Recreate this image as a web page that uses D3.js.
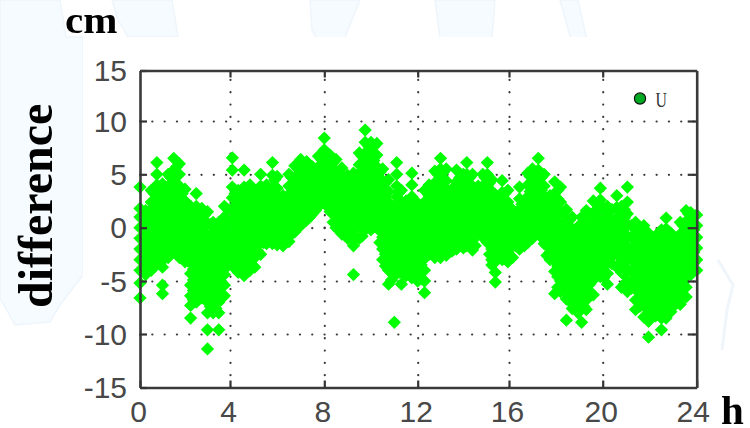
<!DOCTYPE html>
<html><head><meta charset="utf-8">
<script src="https://cdn.jsdelivr.net/npm/d3@7/dist/d3.min.js"></script>
<style>html,body{margin:0;padding:0;background:#fff;overflow:hidden}svg{display:block;filter:blur(.5px)}</style>
</head><body><svg id="c" width="750" height="428"></svg>
<script>
const seriesName = "U";
const xTicks = [0,4,8,12,16,20,24];
const yTicks = [-15,-10,-5,0,5,10,15];
const xPixels = [140,230,324.3,417.7,509,602.7,696.7];
const yPixels = [387.5,334,281,227.7,174.3,121,70.5];
const hours = [0,.25,.5,.75,1,1.25,1.5,1.75,2,2.25,2.5,2.75,3,3.25,3.5,3.75,4.1,4.35,4.6,4.85,5.05,5.3,5.55,5.8,6,6.25,6.5,6.75,7,7.25,7.5,7.75,8,8.25,8.5,8.75,9,9.25,9.5,9.75,10,10.25,10.5,10.75,11,11.1,11.3,11.5,11.75,12,12.3,12.5,12.75,13,13.25,13.5,13.7,14,14.15,14.4,14.65,14.85,15.05,15.25,15.4,15.7,15.95,16.15,16.45,16.65,16.8,17,17.25,17.5,17.75,17.95,18.2,18.45,18.7,18.95,19.1,19.3,19.6,19.9,20.2,20.6,20.8,21.05,21.4,21.75,21.95,22.25,22.5,22.7,22.9,23.1,23.3,23.55,23.75,24];
const differences = [
[3.8,1.8,1,0,-1,-2,-3,-4,-5.2,-6.6],
[1.6,.7,-.4,-1.3,-2.4,-3.2,-4.4],
[3.5,2.4,1.4,.3,-.8,-1.9,-2.9,-4],
[6.1,5,4,3,1.9,.9,-.2,-1.2,-2.4,-3.4],
[4.1,3,2,.8,-.3,-1.4,-2.6,-3.7,-5.4,-6.2],
[5,3.9,2.8,1.6,.6,-.5,-1.7,-2.8],
[6.5,5.4,4.4,3.2,2.1,1,0,-1.2,-2.3],
[6,5,3.9,2.9,1.8,.7,-.4,-1.6,-2.8],
[3.6,2.5,1.4,.3,-.8,-2,-3.2],
[2,1,-.1,-1.2,-2.3,-3.3,-4.3,-5.4,-6.4,-7.3,-8.5],
[3.2,2,1,0,-1.1,-2.2,-3.2,-4.3,-5.3,-6.2,-7],
[1.8,.8,-.3,-1.3,-2.4,-3.4,-4.5,-5.5,-6.6],
[1.5,.4,-.7,-1.7,-2.8,-3.9,-5,-6,-7,-8,-9.6,-11.4],
[.5,-.5,-1.6,-2.7,-3.8,-4.8,-5.9,-7,-8],
[.5,-.6,-1.7,-2.7,-3.8,-4.9,-6,-7,-8,-9.6],
[2,1,-.1,-1.2,-2.3,-3.3,-4.4,-5.4,-6.4],
[6.55,5.4,3.8,2.8,1.6,.5,-.6,-1.6,-2.7,-3.6],
[3.5,2.5,1.4,.3,-.8,-1.9,-3.1,-4.2],
[5.4,3.8,2.7,1.6,.5,-.5,-1.6,-2.6,-3.6,-4.5],
[4,2.9,1.9,.8,-.3,-1.4,-2.4,-3.4,-4],
[3.5,2.4,1.3,.3,-.8,-1.8,-2.8,-3.7],
[5,3.9,2.9,1.8,.7,-.3,-1.4,-2.5],
[4,3,1.9,.9,-.2,-1.3,-1.5],
[6.1,4.9,3.7,2.7,1.6,.5,-.6,-1.5],
[4.8,3.7,2.6,1.5,.4,-.7,-1.6],
[3,2,.9,-.1,-1.2,-1.7],
[5,3.9,2.9,1.8,.7,-.3,-1.3],
[5.8,4.7,3.6,2.6,1.5,.4,-.4],
[6.4,5.3,4.3,3.2,2.1,1,.2],
[6.2,5.1,4,3,2,.7],
[5.7,4.6,3.5,2.4,1.3],
[6.7,5.7,4.6,3.5,2.5,2],
[8.4,7.3,6.3,5.2,4.1,2.9],
[6.8,5.8,4.7,3.6,2.5,1.5],
[6.4,5.3,4.3,3.2,2.1,1,0],
[5.6,4.5,3.5,2.4,1.3,.3,-.6],
[4.9,3.9,2.8,1.7,.7,-.4,-1],
[5.1,4,2.9,1.9,.8,-.3,-1.7,-4.4],
[7,5.9,4.9,3.8,2.7,1.6,.5,-1],
[9.15,8,7,5.9,4.8,3.8,2.7,1.6,.6,-.2],
[8,6.9,5.8,4.8,3.7,2.7,1.6,.5,-.2],
[7.9,6.8,5.7,4.6,3.6,2.5,1.4,0],
[5.5,4.4,3.4,2.3,1.3,.2,-.9,-2,-3],
[4.5,3.4,2.4,1.3,.2,-.8,-1.9,-3,-4,-5.3],
[2,1,-.1,-1.2,-2.2,-3.3,-4.5,-8.9],
[6.1,5,3.9,2.9,1.8,.7,-.4,-1.4,-2.5,-3.6],
[3.5,2.4,1.3,.3,-.8,-1.8,-2.9,-4.2,-5.3],
[2.5,1.5,.5,-.6,-1.6,-2.7,-3.7,-4.5],
[5.1,4,2.9,1.9,.8,-.3,-1.3,-2.4,-3.5,-4.7],
[2.3,1.3,.2,-.9,-2,-3,-4.1,-5],
[3.5,2.4,1.4,.3,-.8,-1.8,-2.9,-4,-5,-6.1],
[4,3,1.9,.8,-.2,-1.3,-2.5],
[5.3,4.2,3.1,2.1,1,0,-1,-2,-2.8],
[6.5,5.5,4.4,3.3,2.3,1.2,.1,-.9,-2,-2.8],
[5.5,4.4,3.4,2.3,1.2,.2,-.9,-1.9,-2.6],
[3.6,2.5,1.5,.4,-.6,-1.6,-2.2],
[5.4,4.3,3.2,2.2,1.1,.1,-1,-2],
[5,3.9,2.8,1.8,.7,-.3,-1.2,-1.9],
[6.1,5,3.9,2.9,1.8,.8,-.3,-1.7],
[5,3.9,2.9,1.8,.8,-.2,-1.2,-2.1],
[3.9,2.8,1.8,.7,-.2],
[5,3.9,2.9,1.9,.8,-.2,-.9],
[6.1,5,3.9,2.9,1.8,.7,-.3,-1.4],
[4.5,3.4,2.3,1.3,.2,-.9,-2,-3,-3.5],
[3.1,2,1,-.1,-1.1,-2.2,-3.2,-4.2,-5.1],
[4.4,3.3,2.3,1.2,.1,-.9,-2,-3],
[3.5,2.4,1.4,.3,-.8,-1.9,-3.2],
[1.7,.6,-.4,-1.5,-2.8],
[3.8,2.7,1.7,.6,-.5,-1.5,-2],
[2.5,1.4,.4,-.7,-1.7],
[5.1,4,2.9,1.9,.8,-.2,-1.4],
[5.5,4.4,3.3,2.3,1.2,.2,-1],
[6.5,5.4,4.3,3.3,2.2,1.2,.2,-.6],
[5,3.9,2.9,1.8,.7,-.3,-1.5],
[3,1.9,.9,-.2,-1.2,-2.3,-3],
[4.3,3.2,2.1,1.1,0,-1,-2.1,-3.1,-4.1,-6.2],
[3.8,2.4,1.4,.3,-.8,-1.9,-2.9,-4,-5,-6],
[1.7,.7,-.4,-1.5,-2.5,-3.6,-4.6,-5.7,-6.7,-8.7],
[1,-.1,-1.1,-2.2,-3.2,-4.3,-5.3,-6.4,-7.6],
[.1,-1,-2,-3.1,-4.1,-5.2,-6.2,-7.3,-8],
[1,0,-1,-2.1,-3.1,-4.2,-5.2,-6.3,-7.3,-8.9],
[1.6,.5,-.5,-1.6,-2.6,-3.7,-4.7,-5.8,-6.8,-7.7],
[2.5,1.4,.4,-.7,-1.7,-2.8,-3.8,-4.9,-6.3],
[3.7,2.6,1.6,.5,-.5,-1.6,-2.6,-3.7,-4.6],
[2,1,-.1,-1.1,-2.2,-3.2,-4.3,-5.3],
[3,1.9,.9,-.2,-1.2,-2.3,-3.7],
[2,1,-.1,-1.1,-2.1,-3.2,-4.2,-5.6],
[3.8,2.4,1.3,.3,-.8,-1.8,-2.8,-3.9,-5,-6],
[.5,-.5,-1.6,-2.6,-3.7,-4.7,-5.8,-6.8,-7.7],
[.2,-.9,-1.9,-3,-4,-5.1,-6.1,-7.2,-8.4],
[-.5,-1.5,-2.6,-3.6,-4.7,-5.7,-6.8,-7.8,-8.8,-10.3],
[-.8,-1.9,-2.9,-4,-5,-6.1,-7.1,-8.3],
[-.2,-1.2,-2.3,-3.3,-4.4,-5.4,-6.5,-7.5,-8.5,-9.6],
[.9,-.1,-1.2,-2.2,-3.3,-4.3,-5.4,-6.4,-7.5,-8.5],
[-.5,-1.5,-2.6,-3.6,-4.7,-5.7,-6.8,-7.9],
[-1.1,-2.1,-3.2,-4.2,-5.3,-6.3,-7.2],
[.5,-.6,-1.6,-2.7,-3.7,-4.8,-5.8,-7.2],
[1.6,.6,-.5,-1.5,-2.6,-3.6,-4.6,-5.6,-6.5],
[1.4,.4,-.7,-1.7,-2.8,-3.6,-4.4],
[1.2,.2,-.9,-1.9,-3,-4]
];
const hoursMid = [.125,.375,.625,.875,1.125,1.375,1.625,1.875,2.125,2.375,2.625,2.875,3.125,3.375,3.625,3.9,4.22,4.47,4.72,4.95,5.18,5.42,5.68,5.9,6.12,6.38,6.62,6.88,7.12,7.38,7.62,7.88,8.12,8.38,8.62,8.88,9.12,9.38,9.62,9.88,10.12,10.38,10.62,10.88,11.05,11.2,11.4,11.62,11.88,12.15,12.4,12.62,12.88,13.12,13.38,13.6,13.85,14.08,14.28,14.52,14.75,14.95,15.15,15.32,15.55,15.82,16.05,16.3,16.55,16.72,16.9,17.12,17.38,17.62,17.85,18.08,18.32,18.58,18.82,19.02,19.2,19.45,19.75,20.05,20.4,20.7,20.92,21.22,21.58,21.85,22.1,22.38,22.6,22.8,23,23.2,23.42,23.65,23.88];
const differencesMid = [
[1.2,.2,-.9,-2,-3,-4],[1.1,.1,-.9,-2,-3,-3.9],[3.2,2,1,0,-1,-2,-3,-3.7],[3.8,2.5,1.5,.5,-.6,-1.7,-2.8,-3.4],
[3.6,2.5,1.3,.2,-.9,-2,-2.8],[4.7,3.4,2.3,1.2,.1,-1,-2.2],[5.7,4.9,3.8,2.7,1.6,.5,-.7,-1.9,-2.3],[3.2,2.3,1.3,.2,-1,-2.2,-2.9],
[1.7,.8,-.3,-1.4,-2.6,-3.1],[1.7,.5,-.6,-1.7,-2.8,-3.9,-4.9,-5.9,-6.8],[1.5,.4,-.7,-1.8,-2.9,-4,-5,-6,-6.7],[1.2,.2,-.9,-2,-3.1,-4.2,-5.2,-6.2],
[.3,-.8,-1.9,-3,-4.1,-5.2,-6.3,-7.4],[.1,-1,-2.1,-3.2,-4.3,-5.4,-6.5,-7.6],[.2,-.9,-2,-3.1,-4.2,-5.3,-6.4],[1.7,.5,-.7,-1.8,-2.9,-3.6],
[3.2,2.1,1,-.1,-1.2,-2.3,-3.4],[3.1,2,.9,-.1,-1.2,-2.3,-3.4,-4.1],[3.7,2.4,1.3,.2,-.9,-1.9,-2.9,-3.7],[3.2,2.2,1.1,0,-1,-2,-3,-3.5],
[3.2,2,1,-.1,-1.1,-2.2],[3.6,2.4,1.4,.3,-.8,-1.4],[3.7,2.6,1.5,.4,-.7,-1.2],[4.5,3.2,2.1,1,-.1,-1.2],
[2.8,1.5,.4,-.7,-1.4],[2.7,1.5,.5,-.6,-1.1],[4.7,3.4,2.4,1.3,.2,-.6],[5.5,4.2,3.1,2,1,.1],
[5.9,4.8,3.7,2.6,1.5,.5],[5.4,4.3,3.2,2.1,1],[5.4,4.2,3,2,1.6],[6.4,5.2,4.1,3,2.3],
[6.5,5.2,4.2,3.1,2],[6.1,4.8,3.7,2.6,1.5,.5],[5.3,4,2.9,1.8,.8,-.2],[4.6,3.4,2.3,1.2,.2,-.7],
[4.6,3.4,2.3,1.2,.2,-.9],[4.8,3.5,2.4,1.3,.2,-.9],[6.7,5.4,4.3,3.2,2.1,1,0,-.8],[7.7,6.4,5.3,4.2,3.2,2.1,1,.1],
[7.6,6.3,5.2,4.1,3.1,2,1,.2],[5.2,3.9,2.9,1.8,.8,-.3,-1.4],[4.2,2.9,1.8,.8,-.3,-1.4,-2.5,-3.6],[1.8,.5,-.6,-1.7,-2.8,-3.9,-4.9],
[1.8,.5,-.6,-1.9,-3,-3.9],[3.3,2.4,1.3,.2,-.9,-2,-3.1,-4.2],[2.2,.9,-.1,-1.1,-2.2,-3.3,-4.3],[2.2,1,0,-1.1,-2.1,-3.2,-4.3],
[2,.8,-.3,-1.4,-2.5,-3.6,-4.6],[2,.8,-.3,-1.3,-2.4,-3.5,-4.8],[3.3,1.9,.9,-.3,-1.3,-2.2],[3.7,2.5,1.4,.3,-.8,-1.9,-2.4],
[5,3.6,2.6,1.5,.5,-.5,-1.5,-2.5],[5.2,3.9,2.8,1.7,.7,-.4,-1.4,-2.4],[3.3,2,1,-.1,-1.1,-2],[3.3,2,1,-.1,-1.1,-2],
[4.7,3.6,2.5,1.5,.4,-.7,-1.7],[4.7,3.4,2.3,1.3,.2,-.8,-1.5],[4.7,3.4,2.3,1.3,.3,-.8,-1.6],[3.6,2.3,1.3,.2,-.8,-1.7],
[3.6,2.3,1.3,.3,-.5],[4.7,3.4,2.4,1.3,.3,-.7],[4.2,2.9,1.8,.8,-.3,-1.4,-2.5],[2.8,1.5,.5,-.5,-1.6,-2.7,-3.2],
[2.8,1.5,.5,-.6,-1.6,-2.7],[3.2,2,.9,-.2,-1.3,-2.4,-2.9],[1.4,.1,-.9,-2,-2.6],[1.4,.2,-.9,-1.7],
[2.2,.9,-.1,-1.1,-1.6],[2.2,.9,-.1,-1.2],[4.8,3.4,2.4,1.3,.3,-.9],[5.2,3.9,2.8,1.7,.7,-.3],
[4.7,3.5,2.4,1.3,.3,-.9],[2.7,1.4,.4,-.7,-1.7,-2.6],[2.7,1.5,.5,-.6,-1.6,-2.7],[3.5,2.7,1.6,.5,-.5,-1.5,-2.6,-3.6,-4.6,-5.6],
[1.4,.2,-.9,-2,-3,-4.1,-5.2,-5.8],[.7,-.6,-1.6,-2.7,-3.7,-4.8,-5.8,-6.9],[-.2,-1.5,-2.6,-3.6,-4.7,-5.7,-6.8,-7.4],[-.2,-1.5,-2.5,-3.6,-4.6,-5.7,-6.7,-7.7],
[.7,-.2,-1.1,-2.2,-3.2,-4.2,-5.3,-6.3,-7.4],[1.3,0,-1.1,-2.1,-3.2,-4.2,-5.3,-6],[2.2,.9,-.1,-1.1,-2.2,-3.2,-4.2],[1.7,.5,-.5,-1.6,-2.6,-3.7,-4.7],
[1.7,.5,-.6,-1.6,-2.7,-3.4],[1.7,.5,-.6,-1.7,-2.7,-3.7],[1.7,.9,-.1,-1.2,-2.3,-3.3,-4.4,-5.3],[.2,-.9,-2,-3,-4.1,-5.1,-5.7],
[-.1,-1.3,-2.4,-3.4,-4.5,-5.5,-6.5,-7.4],[-.8,-1.9,-3,-4,-5.1,-6.1,-7.2,-8.2],[-1.1,-2.2,-3.3,-4.3,-5.4,-6.4,-7.5],[-.5,-1.6,-2.7,-3.7,-4.8,-5.8,-6.9,-8],
[-.5,-1.7,-2.8,-3.8,-4.9,-5.9,-7,-8.2],[-.8,-2,-3,-4.1,-5.1,-6.2,-7.3],[-1.4,-2.7,-3.7,-4.8,-5.8,-6.9],[-1.4,-2.6,-3.7,-4.7,-5.8,-6.8],
[.2,-1,-2.1,-3.1,-4.2,-5.2,-6.3],[1.3,.1,-1,-2.1,-3.1,-4.2],[1.1,-.2,-1.2,-2.3,-3.3,-3.9]
];
const bgPolys = [
 "0,0 60,0 66,37 83,37 83,275 60,305 50,322 15,325 0,298",
 "112,0 172,0 178,37 128,37 118,20",
 "310,0 360,0 338,54 325,54 312,30",
 "435,0 495,0 492,37 475,54 458,40 442,54",
 "560,0 578,0 590,54 575,54"
];
const svg = d3.select("#c");
const x = d3.scaleLinear().domain(xTicks).range(xPixels);
const y = d3.scaleLinear().domain(yTicks).range(yPixels);
const [L,R] = [xPixels[0], xPixels[6]], [B,T] = [yPixels[0], yPixels[6]];

svg.selectAll(".bg").data(bgPolys).join("polygon").attr("class","bg").attr("points",d=>d)
   .attr("fill","#f6fbff").attr("stroke","#eef5fb").attr("stroke-width",1.5);
svg.append("rect").attr("x",83).attr("y",37).attr("width",635).attr("height",391).attr("fill","#fff");
svg.append("path").attr("d","M718 260 L733 285 L727 310 L722 350").attr("fill","none").attr("stroke","#eff5fb").attr("stroke-width",3);

// grid
const gx = svg.append("g").attr("transform",`translate(0,${B})`)
  .call(d3.axisBottom(x).tickValues(xTicks.slice(1,-1)).tickSize(-(B-T)).tickFormat(""));
const gy = svg.append("g").attr("transform",`translate(${L},0)`)
  .call(d3.axisLeft(y).tickValues(yTicks.slice(1,-1)).tickSize(-(R-L)).tickFormat(""));
[gx,gy].forEach(g=>{g.select(".domain").remove();
  g.selectAll("line").attr("stroke","#3a3a3a").attr("stroke-width",2.2).attr("stroke-linecap","round").attr("stroke-dasharray","0.1 12.2");});

// points
const pts = hours.flatMap((h,i)=>differences[i].map(v=>({h,v})))
  .concat(hoursMid.flatMap((h,i)=>differencesMid[i].map(v=>({h,v}))));
const sym = d3.symbol().type(d3.symbolSquare).size(88)();
svg.append("g").selectAll("path").data(pts).join("path").attr("d",sym).attr("fill","#00ff00")
  .attr("transform",d=>`translate(${x(d.h)},${y(d.v)}) rotate(45)`);

// frame & ticks
const style = (g)=>{g.selectAll("line").attr("stroke","#333").attr("stroke-width",2.2);
  g.select(".domain").attr("stroke","#3a3a3a").attr("stroke-width",2.6);
  g.selectAll("text").attr("fill","#484848").attr("font-family","Liberation Sans, Arial, sans-serif").attr("font-size",30);};
const ax = svg.append("g").attr("transform",`translate(0,${B})`)
  .call(d3.axisBottom(x).tickValues(xTicks).tickSizeInner(-7).tickSizeOuter(0).tickPadding(13).tickFormat(d3.format("d"))).call(style);
ax.selectAll("text").attr("dy",".71em").attr("dx",d=>d===24?-4:-2);
const ay = svg.append("g").attr("transform",`translate(${L},0)`)
  .call(d3.axisLeft(y).tickValues(yTicks).tickSizeInner(-7).tickSizeOuter(0).tickPadding(13).tickFormat(d=>d)).call(style);
ay.selectAll("text").attr("dy",".34em");
svg.append("g").attr("transform",`translate(0,${T})`)
  .call(d3.axisTop(x).tickValues(xTicks.slice(1,-1)).tickSizeInner(-7).tickSizeOuter(0).tickFormat("")).call(style);
svg.append("g").attr("transform",`translate(${R},0)`)
  .call(d3.axisRight(y).tickValues(yTicks.slice(1,-1)).tickSizeInner(-9).tickSizeOuter(0).tickFormat("")).call(style);

// labels
const serif = "Liberation Serif, Times New Roman, serif";
svg.append("text").text("cm").attr("transform","translate(65,33) scale(1.14,1.05)").attr("font-family",serif).attr("font-weight","bold").attr("font-size",36).attr("fill","#000");
svg.append("text").text("h").attr("x",721).attr("y",424).attr("font-family",serif).attr("font-weight","bold").attr("font-size",41).attr("fill","#000");
svg.append("text").text("difference").attr("transform","translate(52,308) rotate(-90)").attr("font-family",serif).attr("font-weight","bold").attr("font-size",48).attr("fill","#000");

// legend
svg.append("circle").attr("cx",640).attr("cy",98.5).attr("r",5.6).attr("fill","#00aa22").attr("stroke","#111").attr("stroke-width",1.2);
svg.append("text").text(seriesName).attr("transform","translate(655.5,106.5) scale(.72,1)").attr("font-family",serif).attr("font-size",22).attr("fill","#333");
</script></body></html>
